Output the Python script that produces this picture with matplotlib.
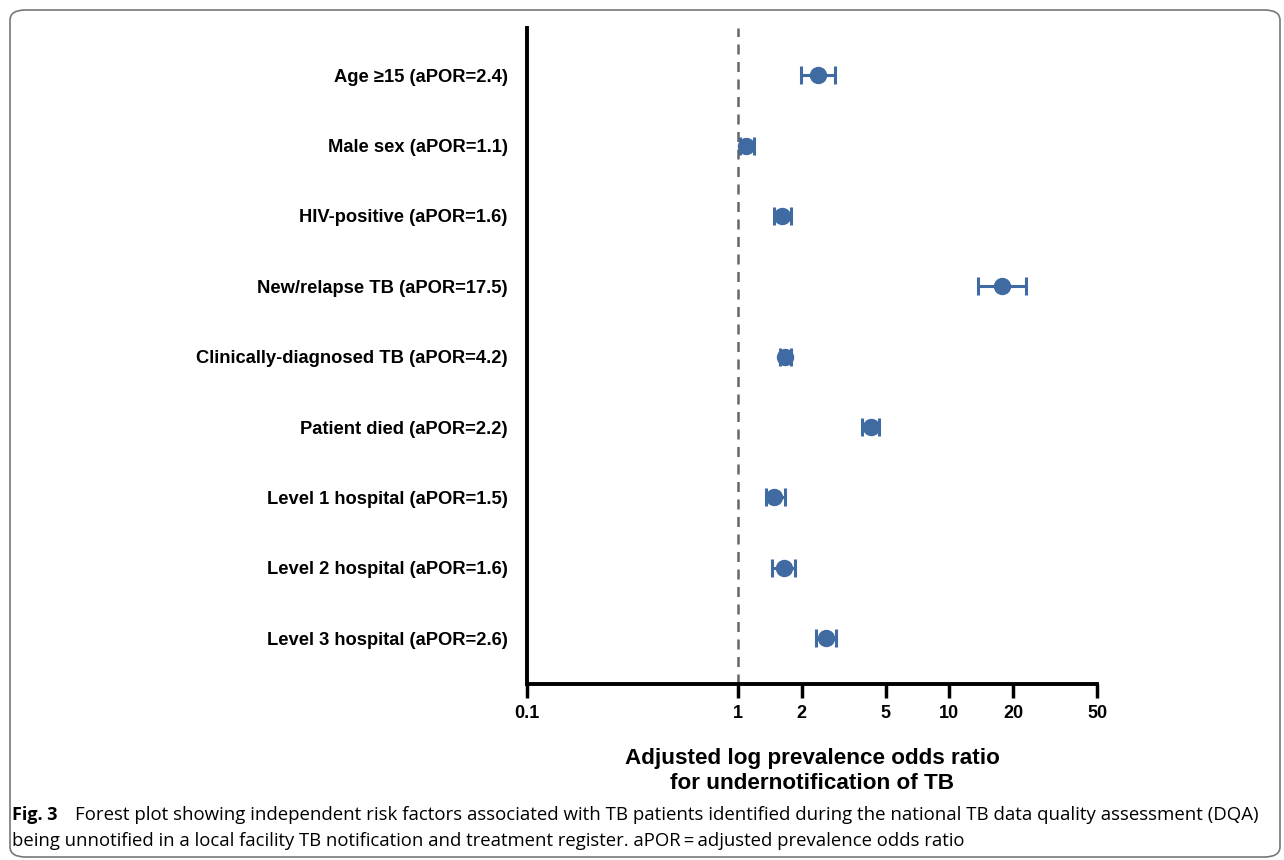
import matplotlib.pyplot as plt
from matplotlib.patches import FancyBboxPatch

# Forest plot data
labels = ["Age \u226515 (aPOR=2.4)", "Male sex (aPOR=1.1)", "HIV-positive (aPOR=1.6)",
          "New/relapse TB (aPOR=17.5)", "Clinically-diagnosed TB (aPOR=4.2)",
          "Patient died (aPOR=2.2)", "Level 1 hospital (aPOR=1.5)",
          "Level 2 hospital (aPOR=1.6)", "Level 3 hospital (aPOR=2.6)"]
est = [2.4, 1.09, 1.62, 17.8, 1.67, 4.25, 1.48, 1.64, 2.6]
lower = [1.98, 1.02, 1.47, 13.7, 1.58, 3.85, 1.36, 1.44, 2.33]
upper = [2.88, 1.19, 1.77, 23.0, 1.78, 4.64, 1.66, 1.85, 2.9]
xticks = [0.1, 1, 2, 5, 10, 20, 50]
xticklabels = ["0.1", "1", "2", "5", "10", "20", "50"]

plt.rcParams['font.family'] = ['Liberation Sans', 'DejaVu Sans']
blue = '#3f6aa2'

fig = plt.figure(figsize=(12.84, 8.6), dpi=100)
ax = fig.add_axes([527/1284, 1-684/860, 570/1284, 656/860])

y = list(range(len(labels)))
xerr = [[e - l for e, l in zip(est, lower)], [u - e for e, u in zip(est, upper)]]
ax.errorbar(est, y, xerr=xerr, fmt='o', color=blue, ms=11.5, elinewidth=2.2,
            capsize=6.2, capthick=2.2)
ax.axvline(1, color='#666666', ls=(0, (4, 3)), lw=1.8, zorder=0)

ax.set_xscale('log')
ax.set_xlim(0.1, 50)
ax.set_ylim(len(labels) - 0.35, -0.67)
ax.set_xticks(xticks)
ax.set_xticklabels(xticklabels, fontsize=13, fontweight='bold')
ax.minorticks_off()
ax.set_yticks(y)
ax.set_yticklabels(labels, fontsize=13.2, fontweight='bold')
ax.tick_params(axis='y', length=0, pad=14)
ax.tick_params(axis='x', length=10, width=2.5, pad=5)
for s in ['top', 'right']:
    ax.spines[s].set_visible(False)
for s in ['left', 'bottom']:
    ax.spines[s].set_linewidth(2.8)

fig.text(812/1284, 1-771/860, "Adjusted log prevalence odds ratio\nfor undernotification of TB",
         ha='center', va='center', fontsize=16.2, fontweight='bold', linespacing=1.25)

# caption
cap_font = ['Open Sans', 'DejaVu Sans']
fig.text(12/1284, 1-815/860, "Fig. 3", fontsize=13, fontweight='bold', family=cap_font, va='center')
fig.text(75/1284, 1-815/860,
         "Forest plot showing independent risk factors associated with TB patients identified during the national TB data quality assessment (DQA)",
         fontsize=13.4, family=cap_font, va='center')
fig.text(12/1284, 1-841/860,
         "being unnotified in a local facility TB notification and treatment register. aPOR\u2009=\u2009adjusted prevalence odds ratio",
         fontsize=13.3, family=cap_font, va='center')

# rounded border
box = FancyBboxPatch((10/1284, 3/860), 1270/1284, 847/860, boxstyle='round,pad=0,rounding_size=0.012',
                     transform=fig.transFigure, fill=False, ec='#777777', lw=1.2)
fig.patches.append(box)

fig.savefig('out.png', dpi=100)
